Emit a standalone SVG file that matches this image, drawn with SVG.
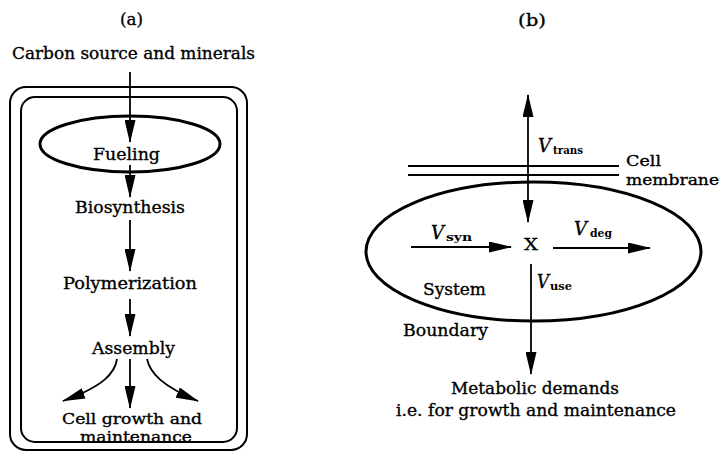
<svg xmlns="http://www.w3.org/2000/svg" width="722" height="452" viewBox="0 0 722 452">
<style>
text { font-family: "DejaVu Serif", "Liberation Serif", serif; font-size: 17.5px; fill: #000; stroke: #000; stroke-width: 0.35; }
.c { text-anchor: middle; }
.tight { font-size: 15.5px; }
.frame { fill: none; stroke: #000; stroke-width: 2; }
.ell { fill: none; stroke: #000; stroke-width: 3; }
.conn { fill: none; stroke: #000; stroke-width: 1.8; }
.arr { marker-end: url(#ah); }
.v { font-style: italic; font-size: 18px; }
.sub { font-size: 11px; font-weight: bold; stroke-width: 0; }
</style>
<defs>
<marker id="ah" viewBox="0 0 23 11" markerUnits="userSpaceOnUse" markerWidth="23" markerHeight="11" refX="22" refY="5.5" orient="auto-start-reverse">
<path d="M0,0 L23,5.5 L0,11 z" fill="#000"/>
</marker>
</defs>

<g id="panel-a-title"><text class="c" x="131.5" y="25" textLength="23" lengthAdjust="spacingAndGlyphs">(a)</text></g>
<g id="panel-b-title"><text class="c" x="532" y="26" textLength="28" lengthAdjust="spacingAndGlyphs">(b)</text></g>

<g id="carbon-source"><text class="c" x="133.5" y="59" textLength="243" lengthAdjust="spacingAndGlyphs">Carbon source and minerals</text></g>

<g id="cell-wall">
<rect class="frame" x="10" y="87" width="237" height="363" rx="16"/>
<rect class="frame" x="21" y="97" width="216" height="345" rx="14"/>
</g>

<g id="fueling">
<ellipse class="ell" cx="130" cy="144" rx="90" ry="28"/>
<text class="c" x="126.5" y="160" textLength="67" lengthAdjust="spacingAndGlyphs">Fueling</text>
</g>
<g id="biosynthesis"><text class="c" x="130" y="213" textLength="110" lengthAdjust="spacingAndGlyphs">Biosynthesis</text></g>
<g id="polymerization"><text class="c" x="130" y="289" textLength="134" lengthAdjust="spacingAndGlyphs">Polymerization</text></g>
<g id="assembly"><text class="c" x="133.5" y="354" textLength="83" lengthAdjust="spacingAndGlyphs">Assembly</text></g>
<g id="cell-growth">
<text class="c tight" x="132" y="424" textLength="140" lengthAdjust="spacingAndGlyphs">Cell growth and</text>
<text class="c tight" x="136" y="442" textLength="112" lengthAdjust="spacingAndGlyphs">maintenance</text>
</g>

<g id="membrane">
<line class="conn" x1="408" y1="166" x2="619" y2="166"/>
<line class="conn" x1="408" y1="175" x2="619" y2="175"/>
<text class="tight" x="626" y="166" textLength="35" lengthAdjust="spacingAndGlyphs">Cell</text>
<text class="tight" x="626" y="185" textLength="93" lengthAdjust="spacingAndGlyphs">membrane</text>
</g>

<g id="system-boundary">
<ellipse class="ell" cx="533.5" cy="251.5" rx="167.5" ry="69.5"/>
<text class="c" x="454.5" y="295" textLength="63" lengthAdjust="spacingAndGlyphs">System</text>
<text class="c" x="445.5" y="336" textLength="85" lengthAdjust="spacingAndGlyphs">Boundary</text>
</g>

<g id="X"><text class="c" x="531" y="250" font-size="18" textLength="14" lengthAdjust="spacingAndGlyphs">X</text></g>

<g id="metabolic-demands">
<text class="c" x="535" y="394" textLength="168" lengthAdjust="spacingAndGlyphs">Metabolic demands</text>
<text class="c" x="536" y="416" textLength="280" lengthAdjust="spacingAndGlyphs">i.e. for growth and maintenance</text>
</g>

<g id="connectors">
<path class="conn arr" d="M130,72 L130,142"/>
<path class="conn arr" d="M130,165 L130,197"/>
<path class="conn arr" d="M130,220 L130,271"/>
<path class="conn arr" d="M130,299 L130,336"/>
<path class="conn arr" d="M130,359 L130,408"/>
<path class="conn arr" d="M117,359 C115,373 104,386 63,401"/>
<path class="conn arr" d="M147,359 C150,373 162,386 198,401"/>
<path class="conn arr" d="M528,222 L528,95" style="marker-start:url(#ah)"/>
<path class="conn arr" d="M411,247 L511,247"/>
<path class="conn arr" d="M553,248 L650,248"/>
<path class="conn arr" d="M531,264 L531,374"/>
</g>

<g id="rate-labels">
<text class="v" x="538" y="152" textLength="13" lengthAdjust="spacingAndGlyphs">V</text><text class="sub" x="553" y="154" textLength="30" lengthAdjust="spacingAndGlyphs">trans</text>
<text class="v" x="431" y="239" textLength="13" lengthAdjust="spacingAndGlyphs">V</text><text class="sub" x="446" y="241" textLength="26" lengthAdjust="spacingAndGlyphs">syn</text>
<text class="v" x="574" y="235" textLength="13" lengthAdjust="spacingAndGlyphs">V</text><text class="sub" x="590" y="237" textLength="22" lengthAdjust="spacingAndGlyphs">deg</text>
<text class="v" x="537" y="288" textLength="12" lengthAdjust="spacingAndGlyphs">V</text><text class="sub" x="550" y="290" textLength="22" lengthAdjust="spacingAndGlyphs">use</text>
</g>
</svg>
